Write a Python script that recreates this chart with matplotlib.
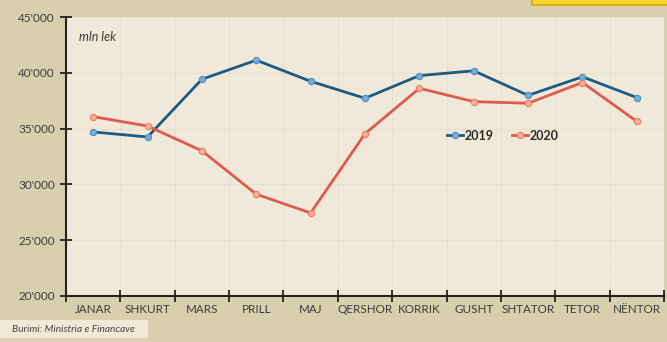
import matplotlib
matplotlib.use("Agg")
import matplotlib.pyplot as plt
from matplotlib.ticker import FuncFormatter, MultipleLocator
from matplotlib.patches import Rectangle

plt.rcParams['font.family'] = ['Lato', 'DejaVu Sans']

muajt = ['JANAR', 'SHKURT', 'MARS', 'PRILL', 'MAJ', 'QERSHOR', 'KORRIK',
         'GUSHT', 'SHTATOR', 'TETOR', 'NËNTOR']
v2019 = [34700, 34250, 39420, 41130, 39240, 37720, 39750, 40180, 37980, 39640, 37780]
v2020 = [36070, 35230, 33010, 29120, 27440, 34540, 38610, 37420, 37270, 39130, 35650]

bg = '#d8cfae'
panel = '#f0e9d9'
txt = '#3b3b3b'

fig = plt.figure(figsize=(6.67, 3.42), dpi=100, facecolor=bg)
ax = fig.add_axes([66 / 667, 46 / 342, 598 / 667, 279 / 342])
ax.set_facecolor(panel)

x = list(range(len(muajt)))
ax.plot(x, v2019, color='#1d5a82', lw=2.0, marker='o', ms=4.5,
        mfc='#79acd6', mec='#4f8cbf', mew=0.8, label='2019', zorder=3)
ax.plot(x, v2020, color='#df5a4e', lw=2.0, marker='o', ms=4.5,
        mfc='#f7b196', mec='#ec7a5e', mew=0.8, label='2020', zorder=3)

ax.set_xlim(-0.5, len(muajt) - 0.5)
ax.set_ylim(20000, 45000)
ax.yaxis.set_major_locator(MultipleLocator(5000))
ax.yaxis.set_major_formatter(FuncFormatter(lambda v, p: f"{int(v):,}".replace(',', "'")))

# month names centred, ticks on the boundaries
ax.set_xticks([i - 0.5 for i in range(len(muajt) + 1)])
ax.set_xticklabels([])
ax.set_xticks(x, minor=True)
ax.set_xticklabels(muajt, minor=True)
ax.tick_params(axis='x', which='minor', length=0, pad=6, labelsize=8.4, labelcolor=txt)
ax.tick_params(axis='x', which='major', direction='inout', length=8, width=1.3, color='#222222')
ax.tick_params(axis='y', direction='inout', length=8, width=1.3, color='#222222',
               labelsize=8.5, labelcolor=txt, pad=4)

ax.grid(True, which='major', color='#ddd6c4', lw=0.7, ls=(0, (1, 1)))
for s in ['top', 'right']:
    ax.spines[s].set_visible(False)
for s in ['left', 'bottom']:
    ax.spines[s].set_color('#222222')
    ax.spines[s].set_linewidth(1.5)

ax.text(0.022, 0.93, 'mln lek', transform=ax.transAxes, style='italic',
        fontsize=9, color=txt, va='center')

leg = ax.legend(loc='center', bbox_to_anchor=(0.73, 0.575), ncol=2, frameon=False,
                handlelength=1.3, handletextpad=0.1, columnspacing=1.5,
                prop={'weight': 'bold', 'size': 9})
for t in leg.get_texts():
    t.set_color('#2a2a2a')

# source note, bottom left
fig.patches.append(Rectangle((0, 4 / 342), 148 / 667, 18 / 342, transform=fig.transFigure,
                             facecolor='#efe9d6', edgecolor='none', zorder=0))
fig.text(12 / 667, 13 / 342, 'Burimi: Ministria e Financave', style='italic',
         fontsize=7.3, color='#444444', va='center')

# box edge peeking in at the top right
fig.patches.append(Rectangle((532 / 667, 337 / 342), 140 / 667, 10 / 342,
                             transform=fig.transFigure, facecolor='#f7d531',
                             edgecolor='#d9a400', lw=1.2, zorder=0))

fig.savefig('out.png', dpi=100, facecolor=bg)
